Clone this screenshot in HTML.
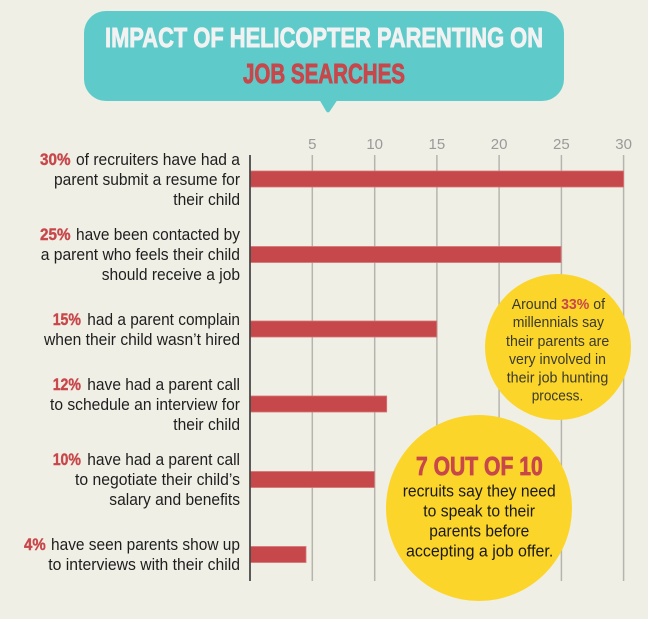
<!DOCTYPE html>
<html><head><meta charset="utf-8"><style>
html,body{margin:0;padding:0;background:#f0efe5;}
svg{display:block;}
</style></head><body>
<svg width="648" height="619" viewBox="0 0 648 619" xmlns="http://www.w3.org/2000/svg">
<rect width="648" height="619" fill="#f0efe5"/>
<!-- title bubble -->
<rect x="84" y="11" width="480" height="90" rx="22" ry="22" fill="#5ecbca"/>
<path d="M319 99 L338 99 L330 111 Q328 114 326 111 Z" fill="#5ecbca"/>
<g font-family="'Liberation Sans Narrow','Liberation Sans',sans-serif" font-weight="bold">
<text x="105" y="47" font-size="28" textLength="438" lengthAdjust="spacingAndGlyphs" fill="#f2f2f2" stroke="#f2f2f2" stroke-width="0.9">IMPACT OF HELICOPTER PARENTING ON</text>
<text x="243" y="83" font-size="28" textLength="162" lengthAdjust="spacingAndGlyphs" fill="#c8474b" stroke="#c8474b" stroke-width="0.9">JOB SEARCHES</text>
</g>
<!-- grid -->
<g stroke="#b5b5ae" stroke-width="1.5">
<line x1="312.3" y1="155" x2="312.3" y2="581"/>
<line x1="374.7" y1="155" x2="374.7" y2="581"/>
<line x1="436.9" y1="155" x2="436.9" y2="581"/>
<line x1="499.1" y1="155" x2="499.1" y2="581"/>
<line x1="561.4" y1="155" x2="561.4" y2="581"/>
<line x1="623.6" y1="155" x2="623.6" y2="581"/>
</g>
<g font-family="'Liberation Sans',sans-serif" font-size="15" fill="#9a9a9a" text-anchor="middle">
<text x="312.3" y="149">5</text>
<text x="374.7" y="149">10</text>
<text x="436.9" y="149">15</text>
<text x="499.1" y="149">20</text>
<text x="561.4" y="149">25</text>
<text x="623.6" y="149">30</text>
</g>
<!-- bars -->
<g fill="#c7484b" stroke="#d77476" stroke-width="0.8">
<rect x="250" y="171" width="373.6" height="16"/>
<rect x="250" y="246.5" width="311" height="16"/>
<rect x="250" y="321" width="186.7" height="16"/>
<rect x="250" y="396" width="136.7" height="16"/>
<rect x="250" y="471.5" width="124.5" height="16"/>
<rect x="250" y="546.5" width="56" height="16"/>
</g>
<line x1="250" y1="155" x2="250" y2="581" stroke="#4a4a4a" stroke-width="1.8"/>
<!-- labels -->
<g font-family="'Liberation Sans Narrow','Liberation Sans',sans-serif" font-weight="bold" font-size="17" fill="#c8474b" stroke="#c8474b" stroke-width="0.4">
<text x="40" y="165" textLength="30.5" lengthAdjust="spacingAndGlyphs">30%</text>
<text x="40" y="240" textLength="30.5" lengthAdjust="spacingAndGlyphs">25%</text>
<text x="52.7" y="325" textLength="28.3" lengthAdjust="spacingAndGlyphs">15%</text>
<text x="52.7" y="390" textLength="28.3" lengthAdjust="spacingAndGlyphs">12%</text>
<text x="52.7" y="465" textLength="28.3" lengthAdjust="spacingAndGlyphs">10%</text>
<text x="24" y="550" textLength="21.7" lengthAdjust="spacingAndGlyphs">4%</text>
</g>
<g font-family="'Liberation Sans',sans-serif" font-size="16.5" fill="#1e1e1e">
<text x="76" y="165" textLength="164" lengthAdjust="spacingAndGlyphs">of recruiters have had a</text>
<text x="54" y="185" textLength="186" lengthAdjust="spacingAndGlyphs">parent submit a resume for</text>
<text x="173.3" y="205" textLength="66.7" lengthAdjust="spacingAndGlyphs">their child</text>
<text x="76" y="240" textLength="164" lengthAdjust="spacingAndGlyphs">have been contacted by</text>
<text x="40.7" y="260" textLength="199.3" lengthAdjust="spacingAndGlyphs">a parent who feels their child</text>
<text x="101.7" y="280" textLength="138.3" lengthAdjust="spacingAndGlyphs">should receive a job</text>
<text x="87.3" y="325" textLength="152.7" lengthAdjust="spacingAndGlyphs">had a parent complain</text>
<text x="44" y="345" textLength="196" lengthAdjust="spacingAndGlyphs">when their child wasn’t hired</text>
<text x="87.3" y="390" textLength="152.7" lengthAdjust="spacingAndGlyphs">have had a parent call</text>
<text x="50" y="410" textLength="190" lengthAdjust="spacingAndGlyphs">to schedule an interview for</text>
<text x="173.3" y="430" textLength="66.7" lengthAdjust="spacingAndGlyphs">their child</text>
<text x="87.3" y="465" textLength="152.7" lengthAdjust="spacingAndGlyphs">have had a parent call</text>
<text x="75" y="485" textLength="165" lengthAdjust="spacingAndGlyphs">to negotiate their child’s</text>
<text x="109.3" y="505" textLength="130.7" lengthAdjust="spacingAndGlyphs">salary and benefits</text>
<text x="51" y="550" textLength="189" lengthAdjust="spacingAndGlyphs">have seen parents show up</text>
<text x="48.3" y="570" textLength="191.7" lengthAdjust="spacingAndGlyphs">to interviews with their child</text>
</g>
<!-- circle 1 -->
<circle cx="558" cy="347" r="73" fill="#fcd52b"/>
<g font-family="'Liberation Sans',sans-serif" font-size="15" fill="#3a3a2c">
<text x="511.7" y="309" textLength="93.3" lengthAdjust="spacingAndGlyphs">Around <tspan fill="#c8474b" font-weight="bold">33%</tspan> of</text>
<text x="512.7" y="327" textLength="91.3" lengthAdjust="spacingAndGlyphs">millennials say</text>
<text x="506" y="346" textLength="103.3" lengthAdjust="spacingAndGlyphs">their parents are</text>
<text x="509" y="364" textLength="97" lengthAdjust="spacingAndGlyphs">very involved in</text>
<text x="506.7" y="382.7" textLength="101.6" lengthAdjust="spacingAndGlyphs">their job hunting</text>
<text x="531.7" y="400.5" textLength="51.6" lengthAdjust="spacingAndGlyphs">process.</text>
</g>
<!-- circle 2 -->
<circle cx="479" cy="508" r="93" fill="#fcd52b"/>
<text x="416" y="475" font-family="'Liberation Sans Narrow','Liberation Sans',sans-serif" font-weight="bold" font-size="26" fill="#c8474b" stroke="#c8474b" stroke-width="0.8" textLength="126.7" lengthAdjust="spacingAndGlyphs">7 OUT OF 10</text>
<g font-family="'Liberation Sans',sans-serif" font-size="17" fill="#1a1a1a">
<text x="402.7" y="496.7" textLength="153" lengthAdjust="spacingAndGlyphs">recruits say they need</text>
<text x="423.3" y="516.7" textLength="111.7" lengthAdjust="spacingAndGlyphs">to speak to their</text>
<text x="429.3" y="536.7" textLength="100" lengthAdjust="spacingAndGlyphs">parents before</text>
<text x="406" y="556.7" textLength="147.3" lengthAdjust="spacingAndGlyphs">accepting a job offer.</text>
</g>
</svg>
</body></html>
